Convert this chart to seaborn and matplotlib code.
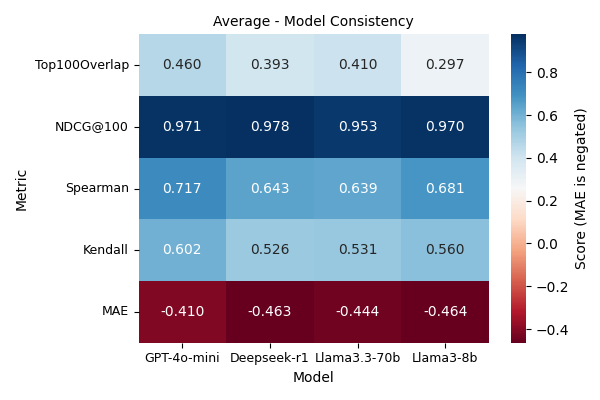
import numpy as np
import pandas as pd
import matplotlib
matplotlib.use('Agg')
import matplotlib.pyplot as plt
import seaborn as sns

# 数据
models = ['GPT-4o-mini', 'Deepseek-r1', 'Llama3.3-70b', 'Llama3-8b']
metrics = ['Top100Overlap', 'NDCG@100', 'Spearman', 'Kendall', 'MAE']
top100_overlap = [0.460, 0.393, 0.410, 0.297]
ndcg100 = [0.971, 0.978, 0.953, 0.970]
spearman = [0.717, 0.643, 0.639, 0.681]
kendall = [0.602, 0.526, 0.531, 0.560]
mae = [-0.410, -0.463, -0.444, -0.464]

df = pd.DataFrame([top100_overlap, ndcg100, spearman, kendall, mae],
                  index=metrics, columns=models)
df.index.name = 'Metric'
df.columns.name = 'Model'

fig, ax = plt.subplots(figsize=(6, 4), dpi=100)
sns.heatmap(df, annot=True, fmt='.3f', cmap='RdBu', ax=ax,
            annot_kws={'fontsize': 10},
            cbar_kws={'label': 'Score (MAE is negated)'})
ax.set_title('Average - Model Consistency', fontsize=10)
ax.set_xlabel('Model', fontsize=10)
ax.set_ylabel('Metric', fontsize=10)
ax.tick_params(axis='y', rotation=0, labelsize=9)
ax.tick_params(axis='x', rotation=0, labelsize=9)
cbar = ax.collections[0].colorbar
cbar.ax.tick_params(labelsize=10)

plt.tight_layout()
plt.savefig('out.png', dpi=100)
